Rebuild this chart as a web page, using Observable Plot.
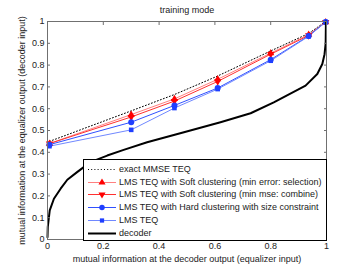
<!DOCTYPE html>
<html>
<head>
<meta charset="utf-8">
<script src="https://cdn.jsdelivr.net/npm/d3@7"></script>
<script src="https://cdn.jsdelivr.net/npm/@observablehq/plot@0.6"></script>
<style>
  body { margin: 0; background: #fff; }
  #wrap { position: relative; width: 360px; height: 270px; font-family: "Liberation Sans", Arial, sans-serif; }
  #legend { position: absolute; left: 83px; top: 159px; width: 242px; height: 80px; border: 1px solid #000; background: #fff; font-size: 9px; color: #222; }
  .row { position: absolute; left: 0; height: 13px; width: 242px; }
  .row svg { position: absolute; left: 0; top: 0; }
  .row span { position: absolute; left: 35px; top: 0; line-height: 13px; white-space: nowrap; }
</style>
</head>
<body>
<div id="wrap"></div>
<script>
const title = "training mode";
const xLabel = "mutual information at the decoder output (equalizer input)";
const yLabel = "mutual information at the equalizer output (decoder input)";
const xTicks = [0, 0.2, 0.4, 0.6, 0.8, 1];
const yTicks = [0, 0.1, 0.2, 0.3, 0.4, 0.5, 0.6, 0.7, 0.8, 0.9, 1];

const xs = [0.007, 0.3, 0.455, 0.61, 0.8, 0.936, 0.997];
const mmse = [0.45, 0.59, 0.665, 0.75, 0.865, 0.945, 1.0];
const softSel = [0.44, 0.573, 0.645, 0.735, 0.855, 0.94, 0.997];
const softComb = [0.44, 0.562, 0.635, 0.725, 0.85, 0.936, 0.997];
const hard = [0.435, 0.538, 0.615, 0.695, 0.825, 0.934, 0.998];
const lms = [0.428, 0.503, 0.603, 0.69, 0.82, 0.932, 0.997];

const decX = [0, 0.001, 0.008, 0.023, 0.047, 0.071, 0.106, 0.154, 0.214, 0.273, 0.357, 0.489, 0.62, 0.728, 0.811, 0.925, 0.967, 0.985, 0.993, 0.997, 0.998];
const decY = [0.01, 0.058, 0.134, 0.187, 0.233, 0.274, 0.309, 0.355, 0.385, 0.411, 0.446, 0.492, 0.538, 0.579, 0.629, 0.706, 0.759, 0.805, 0.85, 0.9, 1.0];

const legendLabels = [
  "exact MMSE TEQ",
  "LMS TEQ with Soft clustering (min error: selection)",
  "LMS TEQ with Soft clustering (min mse: combine)",
  "LMS TEQ with Hard clustering with size constraint",
  "LMS TEQ",
  "decoder"
];

const RED = "#ff0000", BLUE = "#1f3fff";
const series = [
  {y: mmse, line: "#000", dash: "1,2.2", width: 1, symbol: null},
  {y: softSel, line: "#ff8080", width: 1, symbol: "triangle", fill: RED, r: 2.7, rotate: 0},
  {y: softComb, line: "#ff3030", width: 1, symbol: "triangle", fill: RED, r: 2.7, rotate: 180},
  {y: hard, line: "#3050ff", width: 1, symbol: "circle", fill: BLUE, r: 3, rotate: 0},
  {y: lms, line: "#7088ff", width: 1, symbol: "square", fill: BLUE, r: 2.6, rotate: 0}
];

const toPts = (ys) => xs.map((x, i) => ({x, y: ys[i]}));
const dec = decX.map((x, i) => ({x, y: decY[i]}));

const marks = [];
for (const s of series) {
  marks.push(Plot.line(toPts(s.y), {x: "x", y: "y", stroke: s.line, strokeWidth: s.width, strokeDasharray: s.dash}));
}
for (const s of [series[1], series[2], series[4], series[3]]) {
  marks.push(Plot.dot(toPts(s.y), {x: "x", y: "y", symbol: () => s.symbol, fill: s.fill, stroke: "none", r: s.r, rotate: s.rotate}));
}
marks.push(Plot.line(dec, {x: "x", y: "y", stroke: "#000", strokeWidth: 2}));

const chart = Plot.plot({
  width: 360, height: 270,
  marginLeft: 47, marginRight: 34, marginTop: 21, marginBottom: 31,
  style: {fontFamily: "Liberation Sans, Arial, sans-serif", fontSize: "9px", color: "#222", background: "#fff"},
  x: {domain: [0, 1]},
  y: {domain: [0, 1]},
  marks: [
    ...marks,
    Plot.frame({stroke: "#707070"}),
    Plot.axisX({anchor: "bottom", ticks: xTicks, tickFormat: d => String(d), tickSize: -3, tickPadding: 6, stroke: "#707070", fill: "#222", label: null}),
    Plot.axisX({anchor: "top", ticks: xTicks, tickFormat: () => "", tickSize: -3, stroke: "#707070", label: null}),
    Plot.axisY({anchor: "left", ticks: yTicks, tickFormat: d => String(d), tickSize: -3, tickPadding: 6, stroke: "#707070", fill: "#222", label: null}),
    Plot.axisY({anchor: "right", ticks: yTicks, tickFormat: () => "", tickSize: -3, stroke: "#707070", label: null}),
    Plot.text([title], {frameAnchor: "top", dy: -11, lineAnchor: "middle", fill: "#222"}),
    Plot.text([xLabel], {frameAnchor: "bottom", dy: 20, lineAnchor: "middle", fill: "#222"}),
    Plot.text([yLabel], {frameAnchor: "left", dx: -25, rotate: -90, lineAnchor: "middle", textAnchor: "middle", fill: "#222"})
  ]
});

const wrap = document.getElementById("wrap");
wrap.appendChild(chart);

// legend overlay
const legend = d3.select(wrap).append("div").attr("id", "legend");
const legendStyles = [
  {stroke: "#000", dash: "1,2.2", width: 1, sym: null},
  {stroke: "#ff8080", width: 1, sym: d3.symbolTriangle, size: 22, fill: RED, rot: 0},
  {stroke: "#ff3030", width: 1, sym: d3.symbolTriangle, size: 22, fill: RED, rot: 180},
  {stroke: "#3050ff", width: 1, sym: d3.symbolCircle, size: 24, fill: BLUE, rot: 0},
  {stroke: "#7088ff", width: 1, sym: d3.symbolSquare, size: 18, fill: BLUE, rot: 0},
  {stroke: "#000", width: 2, sym: null}
];
legendLabels.forEach((label, i) => {
  const st = legendStyles[i];
  const row = legend.append("div").attr("class", "row").style("top", (2.8 + i * 12.8) + "px");
  const svg = row.append("svg").attr("width", 36).attr("height", 13);
  svg.append("line").attr("x1", 4).attr("x2", 32).attr("y1", 6.5).attr("y2", 6.5)
    .attr("stroke", st.stroke).attr("stroke-width", st.width).attr("stroke-dasharray", st.dash || null);
  if (st.sym) {
    svg.append("path").attr("d", d3.symbol(st.sym, st.size)())
      .attr("transform", `translate(18,6.5) rotate(${st.rot})`).attr("fill", st.fill);
  }
  row.append("span").text(label);
});
</script>
</body>
</html>
